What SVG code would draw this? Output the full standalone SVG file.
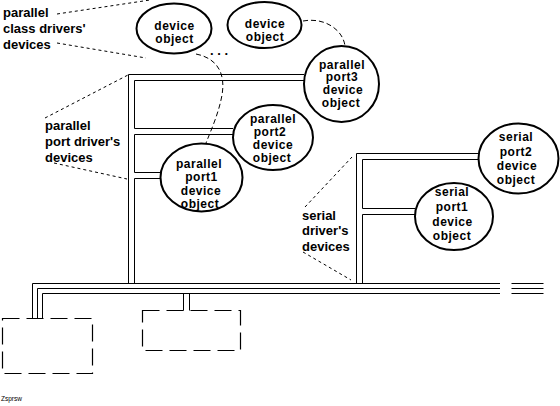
<svg xmlns="http://www.w3.org/2000/svg" width="560" height="406" viewBox="0 0 560 406">
<style>
.ln{fill:none;stroke:#000;stroke-width:1}
.dl{fill:none;stroke:#000;stroke-width:1;stroke-dasharray:3 3}
.dc{fill:none;stroke:#000;stroke-width:1;stroke-dasharray:5 3}
.box{fill:none;stroke:#000;stroke-width:1.2;stroke-dasharray:17 7}
.el{fill:#fff;stroke:#000;stroke-width:2}
text{font-family:"Liberation Sans",Arial,sans-serif;font-weight:bold;font-size:13px;fill:#000}
.c{text-anchor:middle;font-size:12px;letter-spacing:0.5px}
</style>
<rect width="560" height="406" fill="#fff"/>
<g id="connectors">
<path class="ln" d="M32.5,318.5V283.5H500M37.5,318.5V288.5H500M42.5,318.5V293.5H500M511.5,283.5H543.5M511.5,288.5H543.5M511.5,293.5H543.5"/>
<path class="ln" d="M183.5,293.5V310.5M189.5,293.5V310.5"/>
<path class="ln" d="M128.5,283.5V74.5H304"/>
<path class="ln" d="M304,80.5H134.5V128.5H233"/>
<path class="ln" d="M233,134.5H134.5V172.5H161"/>
<path class="ln" d="M161,178.5H134.5V283.5"/>
<path class="ln" d="M356.5,283.5V153.5H479"/>
<path class="ln" d="M479,159.5H362.5V208.5H415"/>
<path class="ln" d="M415,214.5H362.5V283.5"/>
<path class="dl" d="M57,14L150,0"/>
<path class="dl" d="M57,43L146,58"/>
<path class="dl" d="M45,118L128,75"/>
<path class="dl" d="M54,163L127,179"/>
<path class="dl" d="M305,207L352,157"/>
<path class="dl" d="M303,252L351,280"/>
<path class="dc" d="M196,54C216,58 226,72 222,95C219,112 212,128 206,143"/>
<path class="dc" d="M303,21C325,17 343,30 345,46"/>
</g>
<g id="box1"><rect class="box" x="2.5" y="318.5" width="90" height="55"/></g>
<g id="box2"><rect class="box" x="142.5" y="310.5" width="98" height="40"/></g>
<g id="label-class">
<text x="3" y="17">parallel</text>
<text x="3" y="33">class drivers'</text>
<text x="3" y="49">devices</text>
</g>
<g id="label-port">
<text x="45" y="129.5">parallel</text>
<text x="45" y="145.5">port driver's</text>
<text x="45" y="161.5">devices</text>
</g>
<g id="label-serial">
<text x="302" y="219.5">serial</text>
<text x="302" y="235">driver's</text>
<text x="302" y="250.5">devices</text>
</g>
<g id="dev1">
<ellipse class="el" cx="174" cy="28.5" rx="37.5" ry="25"/>
<text class="c" x="174.5" y="29.5">device</text>
<text class="c" x="174.5" y="42.5">object</text>
</g>
<text id="dots" x="210" y="55">. . .</text>
<g id="dev2">
<ellipse class="el" cx="264.5" cy="25" rx="37" ry="23"/>
<text class="c" x="265" y="28">device</text>
<text class="c" x="265" y="41">object</text>
</g>
<g id="pport3">
<ellipse class="el" cx="341.5" cy="84" rx="37.5" ry="38"/>
<text class="c" x="342" y="68.5">parallel</text>
<text class="c" x="342" y="81.3">port3</text>
<text class="c" x="343" y="94">device</text>
<text class="c" x="341" y="106.8">object</text>
</g>
<g id="pport2">
<ellipse class="el" cx="273" cy="137.5" rx="40" ry="32.5"/>
<text class="c" x="273" y="122.5">parallel</text>
<text class="c" x="270" y="135.5">port2</text>
<text class="c" x="273" y="148.5">device</text>
<text class="c" x="272" y="162">object</text>
</g>
<g id="pport1">
<ellipse class="el" cx="201.5" cy="177.5" rx="41" ry="34"/>
<text class="c" x="199" y="167.5">parallel</text>
<text class="c" x="201.5" y="181">port1</text>
<text class="c" x="201" y="194.5">device</text>
<text class="c" x="200" y="207.5">object</text>
</g>
<g id="sport2">
<ellipse class="el" cx="518.5" cy="158.5" rx="40" ry="35"/>
<text class="c" x="516" y="141">serial</text>
<text class="c" x="516" y="155.5">port2</text>
<text class="c" x="517" y="169.5">device</text>
<text class="c" x="516" y="183.5">object</text>
</g>
<g id="sport1">
<ellipse class="el" cx="454" cy="216.5" rx="39" ry="33.5"/>
<text class="c" x="452" y="196">serial</text>
<text class="c" x="452" y="210.5">port1</text>
<text class="c" x="452.5" y="225.5">device</text>
<text class="c" x="452" y="239.5">object</text>
</g>
<text x="1" y="401" style="font-size:6.5px;font-weight:normal">Zsprsw</text>
</svg>
